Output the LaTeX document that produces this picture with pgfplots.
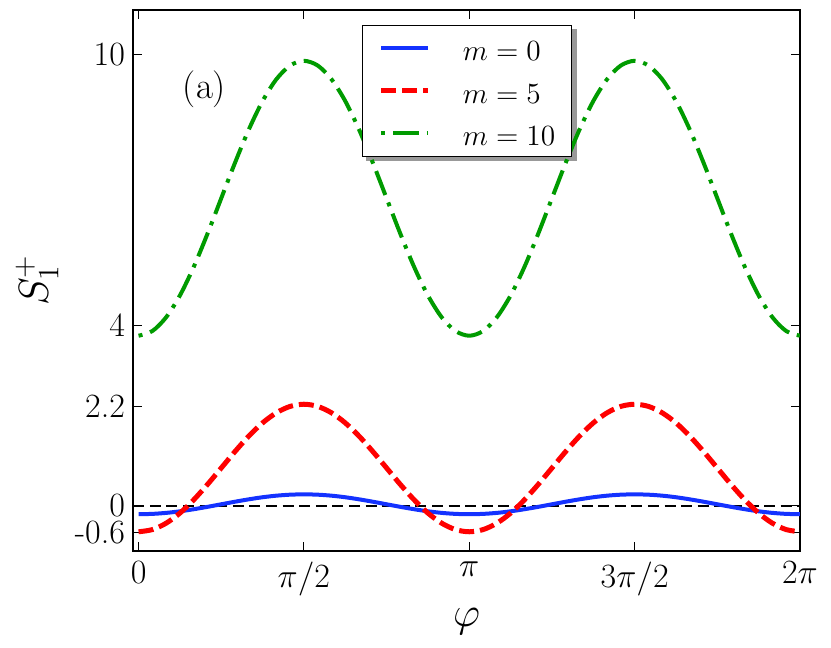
\RequirePackage{fix-cm}
\documentclass[border=0pt]{standalone}
\usepackage{pgfplots}
\pgfplotsset{compat=1.18}
\usepackage{pgfplotstable}
\definecolor{cblue}{RGB}{20,50,255}
\definecolor{cred}{RGB}{255,0,0}
\definecolor{cgreen}{RGB}{0,155,0}
\pgfdeclarelayer{shadowlayer}
\pgfsetlayers{shadowlayer,main}

\pgfplotstableread{
phi m0 m5 m10
0.0000 -0.190 -0.580 3.770
0.1309 -0.183 -0.532 3.874
0.2618 -0.161 -0.390 4.179
0.3927 -0.126 -0.166 4.663
0.5236 -0.080 0.128 5.295
0.6545 -0.027 0.469 6.031
0.7854 0.030 0.835 6.820
0.9163 0.087 1.201 7.609
1.0472 0.140 1.543 8.345
1.1781 0.186 1.836 8.977
1.3090 0.221 2.060 9.461
1.4399 0.243 2.202 9.766
1.5708 0.250 2.250 9.870
1.7017 0.243 2.202 9.766
1.8326 0.221 2.060 9.461
1.9635 0.186 1.836 8.977
2.0944 0.140 1.543 8.345
2.2253 0.087 1.201 7.609
2.3562 0.030 0.835 6.820
2.4871 -0.027 0.469 6.031
2.6180 -0.080 0.128 5.295
2.7489 -0.126 -0.166 4.663
2.8798 -0.161 -0.390 4.179
3.0107 -0.183 -0.532 3.874
3.1416 -0.190 -0.580 3.770
3.2725 -0.183 -0.532 3.874
3.4034 -0.161 -0.390 4.179
3.5343 -0.126 -0.166 4.663
3.6652 -0.080 0.128 5.295
3.7961 -0.027 0.469 6.031
3.9270 0.030 0.835 6.820
4.0579 0.087 1.201 7.609
4.1888 0.140 1.543 8.345
4.3197 0.186 1.836 8.977
4.4506 0.221 2.060 9.461
4.5815 0.243 2.202 9.766
4.7124 0.250 2.250 9.870
4.8433 0.243 2.202 9.766
4.9742 0.221 2.060 9.461
5.1051 0.186 1.836 8.977
5.2360 0.140 1.543 8.345
5.3669 0.087 1.201 7.609
5.4978 0.030 0.835 6.820
5.6287 -0.027 0.469 6.031
5.7596 -0.080 0.128 5.295
5.8905 -0.126 -0.166 4.663
6.0214 -0.161 -0.390 4.179
6.1523 -0.183 -0.532 3.874
6.2832 -0.190 -0.580 3.770
}\datatable

\begin{document}
\begin{tikzpicture}
\path[use as bounding box] (-66.65pt,-48.6pt) rectangle (348.85pt,275.35pt);
\begin{axis}[
  scale only axis, width=333.35pt, height=270.4pt,
  xmin=-0.05, xmax=6.28319, ymin=-1, ymax=11,
  axis line style={line width=1pt},
  tick align=inside, tick pos=both,
  major tick length=4.5pt,
  every tick/.style={black, line width=0.5pt},
  xtick={0,1.5708,3.14159,4.71239,6.28319},
  xticklabels={$0$,$\pi/2$,$\pi$,$3\pi/2$,$2\pi$},
  ytick={-0.6,0,2.2,4,10},
  yticklabels={-0.6,0,2.2,4,10},
  xticklabel style={anchor=north, inner sep=0pt, yshift=-5.4pt, font=\fontsize{17}{20}\selectfont},
  yticklabel style={anchor=east, inner sep=0pt, xshift=-4pt, font=\fontsize{17}{20}\selectfont},
  xlabel={$\varphi$},
  ylabel={$S_1^+$},
  every axis x label/.style={at={(axis description cs:0.5,-0.1058)}, anchor=north, inner sep=0pt, font=\fontsize{21}{25}\selectfont},
  every axis y label/.style={at={(axis description cs:-0.1444,0.5)}, rotate=90, anchor=center, font=\fontsize{21}{25}\selectfont},
  legend style={
    name=leg,
    at={(0.5005,0.9723)}, anchor=north,
    draw=black, line width=0.75pt, fill=white,
    inner xsep=8.1pt, inner ysep=0.8pt,
    row sep=0pt, column sep=16pt,
    font=\fontsize{14.65}{17}\selectfont,
    nodes={inner sep=0pt, text height=16.8pt, text depth=4.45pt},
  },
  legend cell align=left,
  legend image code/.code={\draw[#1] (0pt,0pt) -- (23.5pt,0pt);},
]
\addplot[black, line width=1pt, dash pattern=on 5.5pt off 2.8pt, forget plot] coordinates {(-0.05,0) (6.28319,0)};
\addplot[cblue, line width=2pt, smooth] table[x=phi,y=m0]{\datatable};
\addlegendentry{$m=0$}
\addplot[cred, line width=2.5pt, dash pattern=on 7.5pt off 3pt, smooth] table[x=phi,y=m5]{\datatable};
\addlegendentry{$m=5$}
\addplot[cgreen, line width=2pt, dash pattern=on 2pt off 4pt on 12.8pt off 4pt, smooth] table[x=phi,y=m10]{\datatable};
\addlegendentry{$m=10$}
\node[font=\fontsize{18.5}{22}\selectfont] at (rel axis cs:0.1068,0.854) {(a)};
\end{axis}
\begin{pgfonlayer}{shadowlayer}
\fill[black!40] ([xshift=2.2pt,yshift=-2.2pt]leg.south west) rectangle ([xshift=2.2pt,yshift=-2.2pt]leg.north east);
\end{pgfonlayer}
\end{tikzpicture}
\end{document}
